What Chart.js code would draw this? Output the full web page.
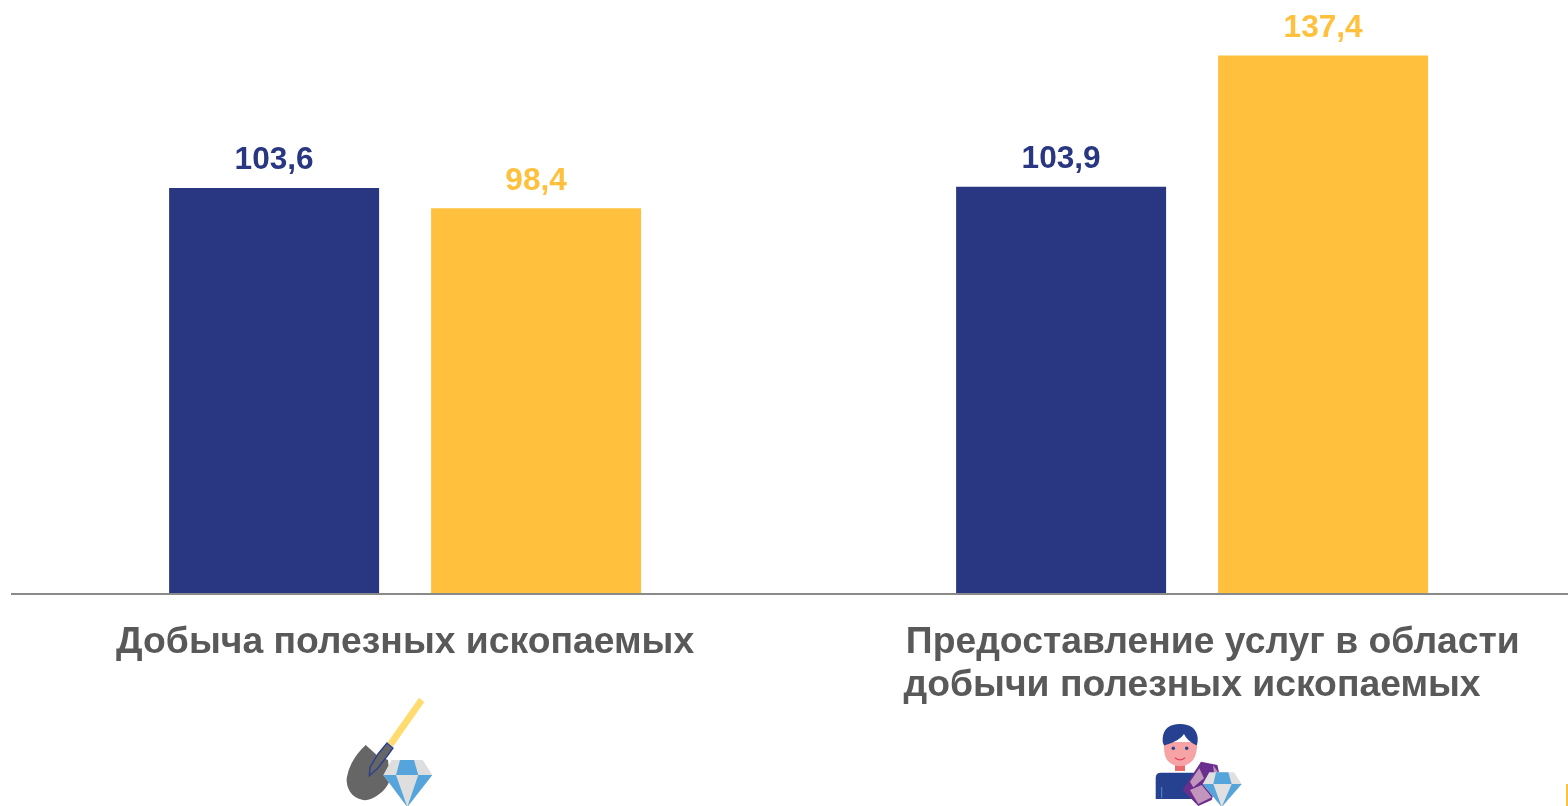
<!DOCTYPE html>
<html>
<head>
<meta charset="utf-8">
<title>Добыча полезных ископаемых</title>
<script src="https://cdn.jsdelivr.net/npm/chart.js@4"></script>
<style>
  html, body { margin: 0; padding: 0; background: #fff; overflow: hidden; width: 1568px; height: 806px; }
  #myChart { position: absolute; left: 0; top: 0; }
  #icons { position: absolute; left: 0; top: 0; }
</style>
</head>
<body>
<canvas id="myChart" width="1591" height="806"></canvas>
<svg id="icons" width="1568" height="806" viewBox="0 0 1568 806">
  <!-- shovel + diamond -->
  <path d="M419 697.7 L424.3 702 L393 746.7 L387.7 742.3 Z" fill="#ffdb70"/>
  <path d="M365.7 745 L376.7 755 L388 760 L390 780 Q386 790 378 795 Q370 801 363 800 Q354 798 350 791.7 Q346 785 346.7 778 Q348 770 351.7 763 Q357 753 365.7 745 Z" fill="#666666"/>
  <path d="M387 743 L393 748 L388 755 L378 768 L369.3 775.7 L370 767.3 L378 754 Z" fill="#666666" stroke="#2a3f8f" stroke-width="1.3"/>
  <path d="M391.7 760 L422.7 760 L432.3 775 L407.3 807 L383.3 775 Z" fill="#dedede"/>
  <path d="M400 760 L414 760 L418.3 775 L396 775 Z" fill="#55a5dc"/>
  <path d="M383.3 775 L396 775 L407.3 807 Z M418.3 775 L432.3 775 L407.3 807 Z" fill="#55a5dc"/>
  <!-- person + diamond -->
  <path d="M1175 764 L1185 764 L1185 771 L1175 771 Z" fill="#ec6a6a"/>
  <path d="M1164 742 L1197 742 L1197 748 Q1196 756 1193 760 Q1188 766 1180 766 Q1172 766 1167 760 Q1164 755 1164 748 Z" fill="#f6a3a5"/>
  <path d="M1164 745.5 Q1162 742 1162.7 738 Q1164 724 1180 724 Q1196 724 1197.7 738 Q1198 742 1196.7 745.5 Q1187 741 1184 734 Q1180 741 1164 745.5 Z" fill="#25418f"/>
  <circle cx="1173.3" cy="748.3" r="1.7" fill="#25418f"/>
  <circle cx="1186.7" cy="748.3" r="1.7" fill="#25418f"/>
  <path d="M1175 757.7 Q1180 762 1185 757.7" fill="none" stroke="#e8415c" stroke-width="1.2"/>
  <path d="M1155.7 799 L1155.7 778 Q1155.7 772.7 1161 772.7 L1198 772.7 L1198 799 Z" fill="#25418f"/>
  <path d="M1161.7 787 L1161.7 798" stroke="#4a90c8" stroke-width="1"/>
  <path d="M1201 761.7 L1217.3 765 L1219.3 773.3 L1211.7 800 L1198.3 806 L1182.7 790 Z" fill="#6a2f8e"/>
  <path d="M1199.3 768.3 L1204 778.3 L1193.3 787.3 L1190 781.7 Z M1190 790 L1201.7 785 L1211.7 797.3 L1198.3 804 Z M1213 765 L1218 772 L1214 773 Z" fill="#c295bd"/>
  <path d="M1209.3 772.3 L1234 772.3 L1241.7 784 L1221.7 807 L1202.7 784 Z" fill="#e0e0e0"/>
  <path d="M1216 772.3 L1228.3 772.3 L1231.7 784 L1213.3 784 Z" fill="#55a5dc"/>
  <path d="M1202.7 784 L1213.3 784 L1221.7 807 Z M1231.7 784 L1241.7 784 L1221.7 807 Z" fill="#55a5dc"/>
  <!-- edge mark -->
  <rect x="1566" y="784" width="2" height="22" fill="#ffc13d"/>
</svg>
<script>
var categories = [
  "Добыча полезных ископаемых",
  ["    Предоставление услуг в области", "добычи полезных ископаемых"],
];
var seriesBlue = [103.6, 103.9];
var seriesYellow = [98.4, 137.4];

var valueLabels = {
  id: "valueLabels",
  afterDatasetsDraw: function (chart) {
    var ctx = chart.ctx;
    ctx.save();
    ctx.font = "bold 31.6px 'Liberation Sans'";
    ctx.textAlign = "center";
    ctx.textBaseline = "alphabetic";
    chart.data.datasets.forEach(function (ds, i) {
      ctx.fillStyle = ds.backgroundColor;
      chart.getDatasetMeta(i).data.forEach(function (bar, j) {
        ctx.fillText(String(ds.data[j]).replace(".", ","), bar.x, bar.y - 18.5);
      });
    });
    ctx.restore();
  },
};

new Chart(document.getElementById("myChart").getContext("2d"), {
  type: "bar",
  data: {
    labels: categories,
    datasets: [
      { data: seriesBlue, backgroundColor: "#293681" },
      { data: seriesYellow, backgroundColor: "#ffc13d" },
    ],
  },
  options: {
    responsive: false,
    animation: false,
    layout: { padding: { left: 11.6, right: 5.4, top: 6, bottom: 0 } },
    plugins: { legend: { display: false }, tooltip: { enabled: false } },
    datasets: { bar: { categoryPercentage: 0.6658, barPercentage: 0.8015 } },
    scales: {
      y: { display: false, min: 0, max: 150 },
      x: {
        afterFit: function (scale) {
          scale.height = 212;
        },
        grid: { display: false, drawTicks: false },
        border: { color: "#8a8a8a", width: 2, z: 1 },
        ticks: {
          maxRotation: 0,
          autoSkip: false,
          padding: 27,
          color: "#595959",
          font: { family: "'Liberation Sans'", size: 37.3, weight: "bold", lineHeight: 1.153 },
        },
      },
    },
  },
  plugins: [valueLabels],
});
</script>
</body>
</html>
